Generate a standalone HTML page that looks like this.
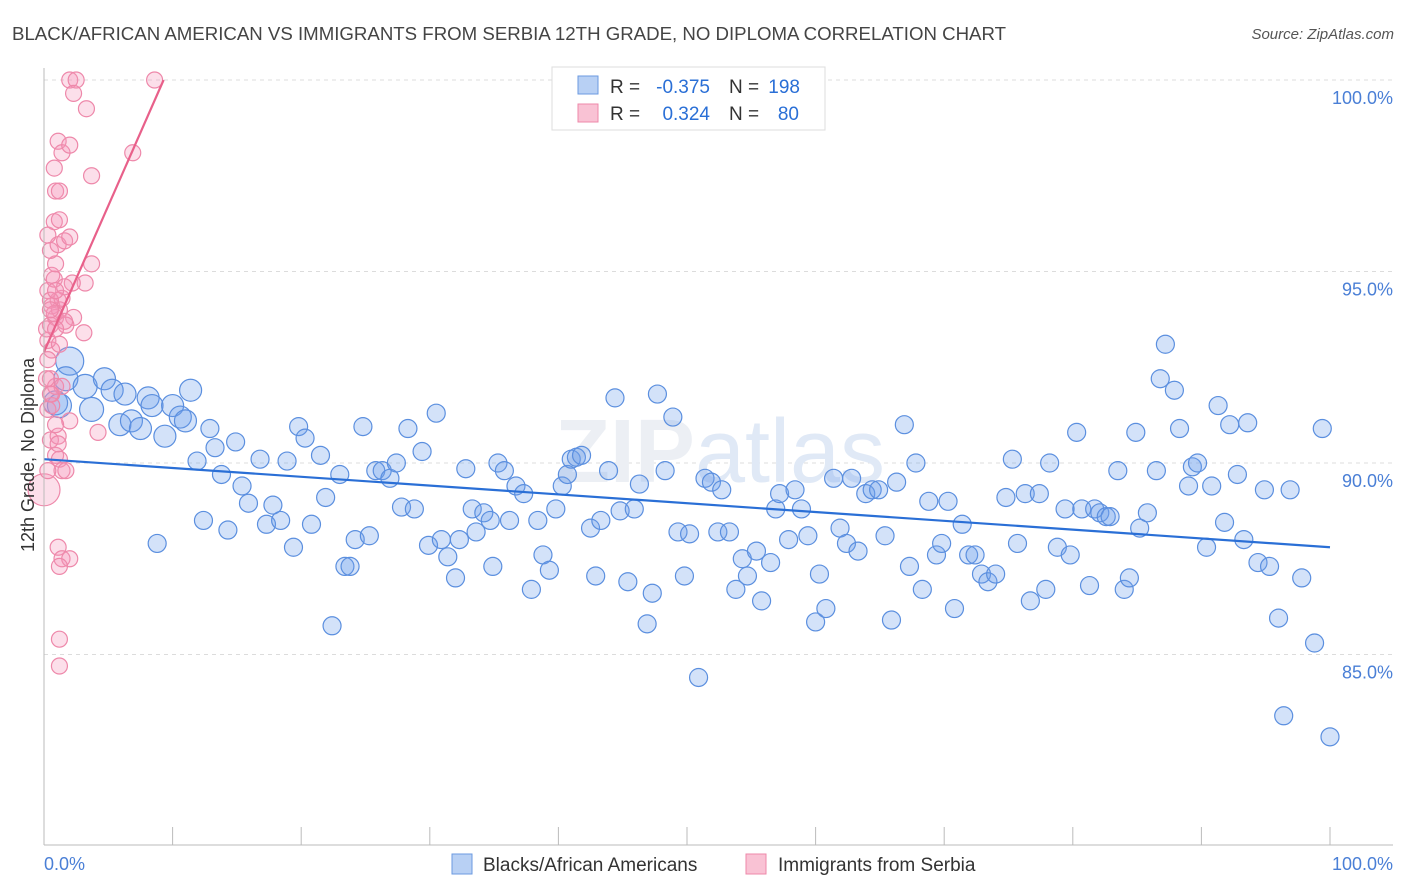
<!DOCTYPE html>
<html><head><meta charset="utf-8"><style>
body{margin:0;background:#fff;font-family:"Liberation Sans",sans-serif;}
svg{display:block}
</style></head><body>
<svg id="chart" width="1406" height="892">
<text x="12" y="40" font-size="18.3" fill="#444" textLength="994" lengthAdjust="spacingAndGlyphs">BLACK/AFRICAN AMERICAN VS IMMIGRANTS FROM SERBIA 12TH GRADE, NO DIPLOMA CORRELATION CHART</text>
<text x="1394" y="39" font-size="15" fill="#555" font-style="italic" text-anchor="end">Source: ZipAtlas.com</text>
<g id="grid"></g>
<text x="720" y="482" font-size="90" fill="#eceff4" text-anchor="middle" font-weight="bold">ZIP<tspan font-weight="normal" fill="#e0e9f6">atlas</tspan></text>
<g id="pts"></g>
<g id="axes"></g>
<text transform="translate(34,455) rotate(-90)" font-size="18" fill="#333" text-anchor="middle">12th Grade, No Diploma</text>
<g>
<rect x="552" y="67" width="273" height="63" fill="#fff" stroke="#ddd"/>
<rect x="578" y="76" width="20" height="18" fill="#b8d0f4" stroke="#6b9ae0"/>
<rect x="578" y="104" width="20" height="18" fill="#f9c2d4" stroke="#ee88aa"/>
<text x="610" y="93" font-size="19" fill="#333">R =</text>
<text x="710" y="93" font-size="19" fill="#2a6fd6" text-anchor="end">-0.375</text>
<text x="729" y="93" font-size="19" fill="#333">N =</text>
<text x="800" y="93" font-size="19" fill="#2a6fd6" text-anchor="end">198</text>
<text x="610" y="120" font-size="19" fill="#333">R =</text>
<text x="710" y="120" font-size="19" fill="#2a6fd6" text-anchor="end">0.324</text>
<text x="729" y="120" font-size="19" fill="#333">N =</text>
<text x="799" y="120" font-size="19" fill="#2a6fd6" text-anchor="end">80</text>
</g>
<g>
<rect x="452" y="854" width="20" height="20" fill="#b8d0f4" stroke="#6b9ae0"/>
<text x="483" y="871" font-size="19" fill="#333">Blacks/African Americans</text>
<rect x="746" y="854" width="20" height="20" fill="#f9c2d4" stroke="#ee88aa"/>
<text x="778" y="871" font-size="19" fill="#333">Immigrants from Serbia</text>
</g>
</svg>
<script>
const blueX=[2.0,1.7,0.9,1.2,3.7,3.2,4.7,5.3,6.3,5.9,6.8,7.5,8.1,8.4,9.4,10.0,10.6,11.0,11.4,8.8,11.9,12.4,12.9,13.3,13.8,14.3,14.9,15.4,15.9,16.8,17.3,17.8,18.4,18.9,19.4,19.8,20.3,20.8,21.5,21.9,22.4,23.0,23.4,23.8,24.2,24.8,25.3,25.8,26.3,26.9,27.4,27.8,28.3,28.8,29.4,29.9,30.5,30.9,31.4,32.0,32.3,32.8,33.3,33.6,34.2,34.7,34.9,35.3,35.8,36.2,36.7,37.3,37.9,38.4,38.8,39.3,39.8,40.3,40.7,41.0,41.4,41.8,42.5,42.9,43.3,43.9,44.4,44.8,45.4,45.9,46.3,46.9,47.3,47.7,48.3,48.9,49.3,49.8,50.2,50.9,51.4,51.9,52.4,52.7,53.3,53.8,54.3,54.7,55.4,55.8,56.5,56.9,57.2,57.9,58.4,58.9,59.4,60.0,60.3,60.8,61.4,61.9,62.4,62.8,63.3,63.9,64.4,64.9,65.4,65.9,66.3,66.9,67.3,67.8,68.3,68.8,69.4,69.8,70.3,70.8,71.4,71.9,72.4,72.9,73.4,74.0,74.8,75.3,75.7,76.3,76.7,77.4,77.9,78.2,78.8,79.4,79.8,80.3,80.7,81.3,81.7,82.1,82.6,82.9,83.5,84.0,84.4,84.9,85.2,85.8,86.5,86.8,87.2,87.9,88.3,89.0,89.3,89.7,90.4,90.8,91.3,91.8,92.2,92.8,93.3,93.6,94.4,94.9,95.3,96.0,96.9,97.8,98.8,99.4,96.4,100.0];
const blueY=[92.66,92.2,91.57,91.5,91.4,92.0,92.2,91.9,91.8,91.0,91.1,90.9,91.7,91.5,90.7,91.5,91.2,91.1,91.9,87.9,90.05,88.5,90.9,90.4,89.7,88.25,90.55,89.4,88.95,90.1,88.4,88.9,88.5,90.05,87.8,90.95,90.65,88.4,90.2,89.1,85.75,89.7,87.3,87.3,88.0,90.95,88.1,89.8,89.8,89.6,90.0,88.85,90.9,88.8,90.3,87.85,91.3,88.0,87.55,87.0,88.0,89.85,88.8,88.2,88.7,88.5,87.3,90.0,89.8,88.5,89.4,89.2,86.7,88.5,87.6,87.2,88.8,89.4,89.7,90.1,90.15,90.2,88.3,87.05,88.5,89.8,91.7,88.75,86.9,88.8,89.45,85.8,86.6,91.8,89.8,91.2,88.2,87.05,88.15,84.4,89.6,89.5,88.2,89.3,88.2,86.7,87.5,87.05,87.7,86.4,87.4,88.8,89.2,88.0,89.3,88.8,88.1,85.85,87.1,86.2,89.6,88.3,87.9,89.6,87.7,89.2,89.3,89.3,88.1,85.9,89.5,91.0,87.3,90.0,86.7,89.0,87.6,87.9,89.0,86.2,88.4,87.6,87.6,87.1,86.9,87.1,89.1,90.1,87.9,89.2,86.4,89.2,86.7,90.0,87.8,88.8,87.6,90.8,88.8,86.8,88.8,88.7,88.6,88.6,89.8,86.7,87.0,90.8,88.3,88.7,89.8,92.2,93.1,91.9,90.9,89.4,89.9,90.0,87.8,89.4,91.5,88.45,91.0,89.7,88.0,91.05,87.4,89.3,87.3,85.95,89.3,87.0,85.3,90.9,83.4,82.85];
const pinkX=[0,0.3,0.5,0.6,0.5,0.9,1.1,1.2,1.4,1.7,0.9,0.6,0.3,0.5,0.9,0.6,1.1,1.2,1.4,0.3,0.6,0.9,0.5,1.1,0.3,0.8,1.2,1.6,2.0,0.9,1.2,0.8,1.1,1.4,2.0,3.7,3.7,3.2,2.2,2.3,3.1,4.2,6.9,2.0,2.5,2.3,3.3,8.6,1.1,1.4,2.0,1.2,1.2,1.2,0.3,0.2,0.5,0.8,1.7,2.0,0.9,1.1,0.3,0.6,1.4,0.8,1.6,1.6,0.9,0.5,1.2,0.9,0.2,0.5];
const pinkY=[89.3,91.4,92.2,91.8,90.6,90.2,90.7,90.1,89.8,89.8,92.0,92.95,93.2,93.6,93.8,94.1,94.25,94.0,94.3,94.5,94.9,95.2,95.55,95.7,95.95,96.3,96.35,95.8,95.9,97.1,97.1,97.7,98.4,98.1,98.3,97.5,95.2,94.7,94.7,93.8,93.4,90.8,98.1,100.0,100.0,99.65,99.25,100.0,87.8,87.5,87.5,87.3,85.4,84.7,92.7,93.5,94.25,93.9,93.6,91.1,91.0,90.5,89.8,91.5,92.0,94.8,94.6,93.7,94.5,94.0,93.1,93.5,92.2,91.8];
const blueTrend=[90.1,87.8];
const pinkTrend=[92.9,100.0,9.3];
const yTicks=[100,95,90,85];
const xTickLabels=["0.0%","100.0%"];

const NS="http://www.w3.org/2000/svg";
const X0=44,X1=1330,xs=v=>X0+(X1-X0)*v/100;
const ys=v=>463-(v-90)*38.3;
function mk(tag,attrs,parent){const e=document.createElementNS(NS,tag);for(const k in attrs)e.setAttribute(k,attrs[k]);parent.appendChild(e);return e;}
const grid=document.getElementById('grid'),axes=document.getElementById('axes'),pts=document.getElementById('pts');
yTicks.forEach(t=>{
 const l=mk('line',{x1:44,x2:1393,y1:ys(t),y2:ys(t),stroke:'#dcdcdc','stroke-dasharray':'4,4'},grid);
 
 
 const tx=mk('text',{x:1393,y:ys(t)+24,'font-size':18,fill:'#4a7fd6','text-anchor':'end'},axes);
 tx.textContent=t.toFixed(1)+'%';
 
 
});
mk('line',{x1:44,x2:44,y1:68,y2:845,stroke:'#bbb'},axes);
mk('line',{x1:44,x2:1393,y1:845,y2:845,stroke:'#bbb'},axes);
for(let i=0;i<=10;i++){const l=mk('line',{x1:xs(i*10),x2:xs(i*10),y1:845,y2:827,stroke:'#bbb'},axes);
 
 }
const xl0=mk('text',{x:44,y:870,'font-size':18,fill:'#4a7fd6'},axes);xl0.textContent=xTickLabels[0];


const xl1=mk('text',{x:1393,y:870,'font-size':18,fill:'#4a7fd6','text-anchor':'end'},axes);xl1.textContent=xTickLabels[1];



blueX.forEach((x,i)=>{
 const r=i<6?(i===0?14:12):(i<19?11:9);
 const c=mk('circle',{cx:xs(x),cy:ys(blueY[i]),r:r,fill:'rgba(110,160,235,0.3)',stroke:'#5b8fdf','stroke-width':1.2},pts);
 
 
});
pinkX.forEach((x,i)=>{
 const r=i===0?16:8;
 const c=mk('circle',{cx:xs(x),cy:ys(pinkY[i]),r:r,fill:'rgba(245,150,185,0.3)',stroke:'#ee88aa','stroke-width':1.2},pts);
 
 
});
const bt=mk('line',{x1:xs(0),y1:ys(blueTrend[0]),x2:xs(100),y2:ys(blueTrend[1]),stroke:'#2a6fd6','stroke-width':2.2},pts);


const pt=mk('line',{x1:xs(0),y1:ys(pinkTrend[0]),x2:xs(pinkTrend[2]),y2:ys(pinkTrend[1]),stroke:'#e8608a','stroke-width':2.2},pts);


</script>
</body></html>
